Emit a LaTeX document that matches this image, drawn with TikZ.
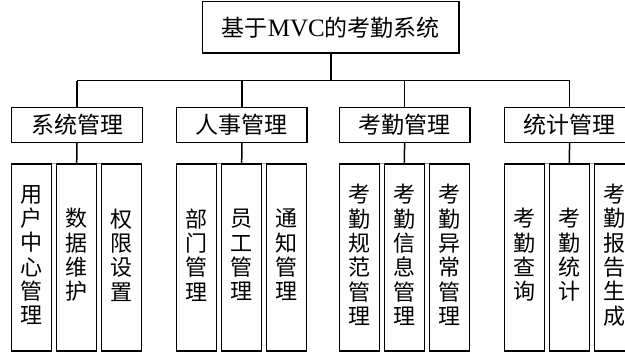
\documentclass[tikz,border=0pt]{standalone}
\usepackage{fontspec}
\setmainfont{Liberation Serif}
\newfontfamily\cjk{Noto Sans CJK SC}
\begin{document}
\begin{tikzpicture}[x=1pt,y=-1pt,
  box/.style={draw, line width=1.5pt, inner sep=0pt},
  topbox/.style={box, minimum width=256.3pt, minimum height=51.3pt, font=\fontsize{23}{26}\selectfont},
  midbox/.style={box, minimum width=130.6pt, minimum height=34.6pt, font=\cjk\fontsize{23}{26}\selectfont},
  leaf/.style={box, minimum width=40pt, minimum height=187pt},
  leaftext/.style={align=center, inner sep=0pt, font=\cjk\fontsize{22}{24.3}\selectfont},
  link/.style={line width=1.5pt},
  gaplink/.style={line width=1pt, gray!70}]
\useasboundingbox (0,0) rectangle (625,353);
\clip (0,0) rectangle (625,353);

\node[topbox] (top) at (330.85,27.35) {{\cjk 基于}{\fontsize{25}{26}\selectfont MVC}{\cjk 的考勤系统}};

\node[midbox] (s1) at (77,125) {系统管理};
\node[midbox] (s2) at (241.9,125) {人事管理};
\node[midbox] (s3) at (404.6,125) {考勤管理};
\node[midbox] (s4) at (569.6,125) {统计管理};

\coordinate (bus) at (0,80.7);

% leaves group 1
\node[leaf] (a1) at (31.7,257.5) {};
\node[leaf] (a2) at (76.7,257.5) {};
\node[leaf] (a3) at (121.7,257.5) {};
% group 2
\node[leaf] (b1) at (196.7,257.5) {};
\node[leaf] (b2) at (241.7,257.5) {};
\node[leaf] (b3) at (286.7,257.5) {};
% group 3
\node[leaf] (c1) at (359.3,257.5) {};
\node[leaf] (c2) at (404.3,257.5) {};
\node[leaf] (c3) at (449.3,257.5) {};
% group 4
\node[leaf] (d1) at (524.3,257.5) {};
\node[leaf] (d2) at (569.3,257.5) {};
\node[leaf] (d3) at (614.3,257.5) {};

\node[leaftext] (a1t) at ([yshift=2.5pt]a1.center) {用\\户\\中\\心\\管\\理};
\node[leaftext] (a2t) at ([yshift=2.5pt]a2.center) {数\\据\\维\\护};
\node[leaftext] (a3t) at ([yshift=2.5pt]a3.center) {权\\限\\设\\置};
\node[leaftext] (b1t) at ([yshift=2.5pt]b1.center) {部\\门\\管\\理};
\node[leaftext] (b2t) at ([yshift=2.5pt]b2.center) {员\\工\\管\\理};
\node[leaftext] (b3t) at ([yshift=2.5pt]b3.center) {通\\知\\管\\理};
\node[leaftext] (c1t) at ([yshift=2.5pt]c1.center) {考\\勤\\规\\范\\管\\理};
\node[leaftext] (c2t) at ([yshift=2.5pt]c2.center) {考\\勤\\信\\息\\管\\理};
\node[leaftext] (c3t) at ([yshift=2.5pt]c3.center) {考\\勤\\异\\常\\管\\理};
\node[leaftext] (d1t) at ([yshift=2.5pt]d1.center) {考\\勤\\查\\询};
\node[leaftext] (d2t) at ([yshift=2.5pt]d2.center) {考\\勤\\统\\计};
\node[leaftext] (d3t) at ([yshift=2.5pt]d3.center) {考\\勤\\报\\告\\生\\成};

% connectors
\draw[link] (top.south) -- (top.south |- bus);
\draw[link] (s1.north |- bus) -- (s4.north |- bus);
\foreach \s in {s1,s2,s3,s4} \draw[link] (\s.north |- bus) -- (\s.north);
\draw[link] (s1.south) -- (a2.north);
\draw[link] (s2.south) -- (b2.north);
\draw[link] (s3.south) -- (c2.north);
\draw[link] (s4.south) -- (d2.north);
\foreach \l/\r in {a1/a2,a2/a3,b1/b2,b2/b3,c1/c2,c2/c3,d1/d2,d2/d3}
  \draw[gaplink] (\l.north east) -- (\r.north west);
\end{tikzpicture}
\end{document}
